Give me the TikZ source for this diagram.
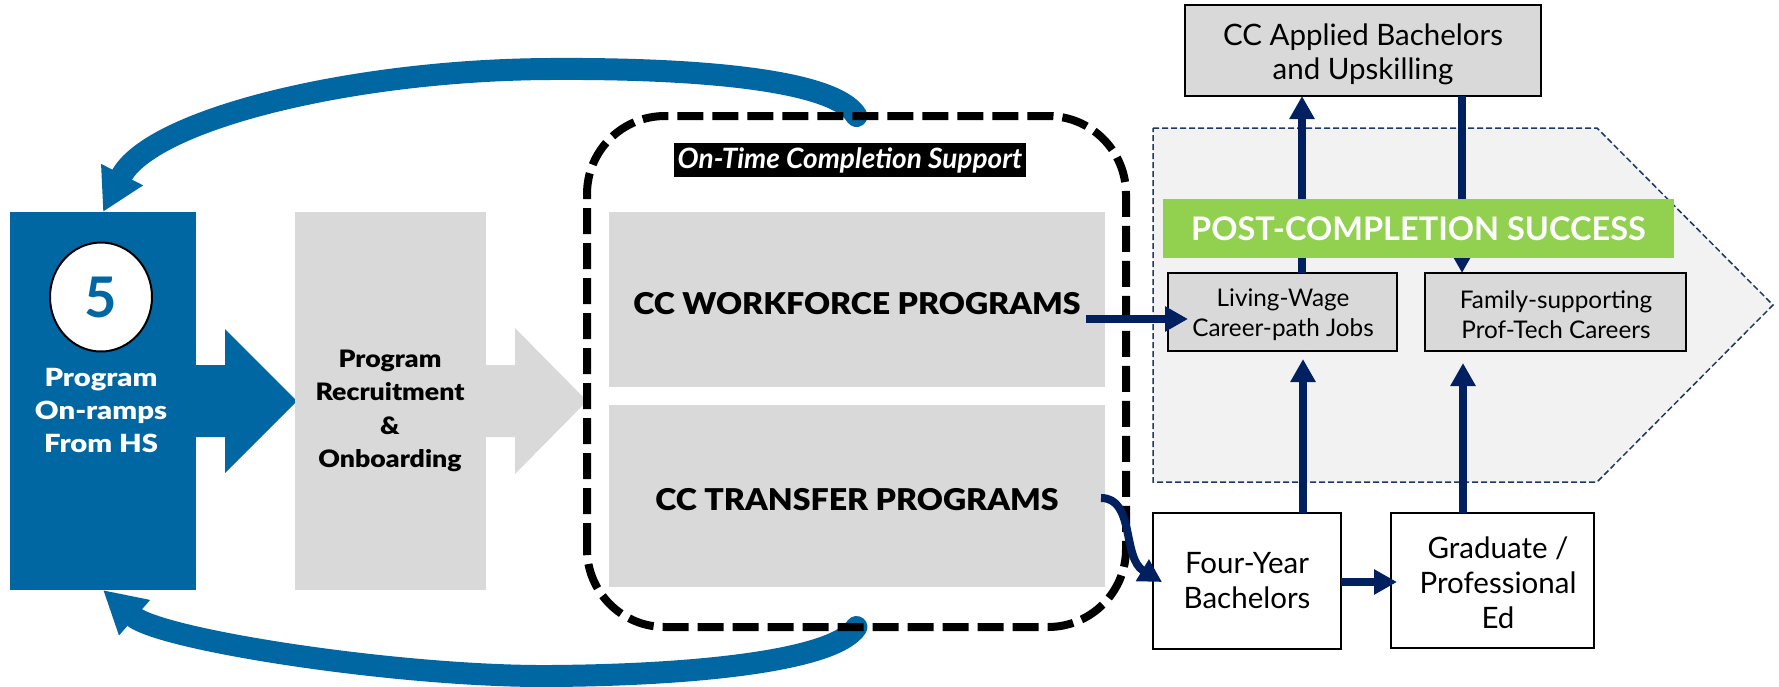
\documentclass[tikz,border=0pt]{standalone}
\usepackage{fontspec}
\setmainfont{Lato}
\IfFontExistsTF{Lato Black}{%
  \newfontfamily\heavyA[FakeStretch=1.17, BoldFont={Lato Black}]{Lato Black}%
  \newfontfamily\heavyB[FakeStretch=1.11, BoldFont={Lato Black}]{Lato Black}%
  \newfontfamily\heavyC[FakeStretch=1.07, BoldFont={Lato Black}]{Lato Black}%
}{%
  \newfontfamily\heavyA[FakeStretch=1.26]{Lato}%
  \newfontfamily\heavyB[FakeStretch=1.2]{Lato}%
  \newfontfamily\heavyC[FakeStretch=1.15]{Lato}%
}
\usetikzlibrary{shapes.geometric,arrows.meta,calc}
\definecolor{bluec}{HTML}{0067A3}
\definecolor{grayc}{HTML}{D9D9D9}
\definecolor{navyc}{HTML}{002060}
\definecolor{greenc}{HTML}{92D050}
\definecolor{pentc}{HTML}{F2F2F2}
\definecolor{pentline}{HTML}{1F3864}
\begin{document}
\begin{tikzpicture}[x=1pt,y=-1pt,
  blk/.style={inner sep=0pt, outer sep=0pt},
  graybox/.style={blk, fill=grayc},
  outbox/.style={blk, draw=black, line width=2pt},
  navyarrow/.style={draw=navyc, line width=8pt, -{Triangle[length=23pt,width=24pt]}},
  bigarc/.style={draw=bluec, line width=22pt, line cap=round, -{Triangle[length=42pt,width=44pt]}},
  bigcap/.style={font=\fontsize{30}{34}\heavyC\bfseries, text height=29pt, text depth=0pt},
  regtxt/.style={font=\fontsize{29.5}{35}\selectfont, align=center},
  smalltxt/.style={font=\fontsize{24.3}{30}\selectfont, align=center}
]
\useasboundingbox (0,0) rectangle (1779,686);
\fill[white] (0,0) rectangle (1779,686);

% left blue box
\node[blk, fill=bluec, minimum width=186pt, minimum height=378pt] (hs) at (103,401) {};
\node[blk, ellipse, draw=black, line width=2pt, fill=white, minimum width=102pt, minimum height=109pt,
      font=\fontsize{56}{60}\selectfont\bfseries, text=bluec] (five) at (101,297) {5};
\node[align=center, text=white, font=\fontsize{25}{33}\heavyA\bfseries] (hstxt) at (101,410) {Program\\On-ramps\\From HS};
\fill[bluec] (196,365) -- (225,365) -- (225,329) -- (297,401) -- (225,473) -- (225,437) -- (196,437) -- cycle;

% recruitment box
\node[graybox, minimum width=191pt, minimum height=378pt] (rec) at (390.5,401) {};
\node[align=center, font=\fontsize{24}{33.3}\heavyB\bfseries] (rectxt) at (390,411) {Program\\Recruitment\\\&\\Onboarding};
\fill[grayc] (486,365) -- (515,365) -- (515,328) -- (587,401) -- (515,474) -- (515,437) -- (486,437) -- cycle;

% on-time support frame (drawn later)
\node[blk, minimum width=539pt, minimum height=511pt] (ots) at (856.5,371.5) {};

% big blue loop arrows
\draw[bigarc] (ots.north) .. controls (835,80) and (700,68) .. (550,69)
      .. controls (350,70) and (150,120) .. (hs.north);
\draw[bigarc] (ots.south) .. controls (835,660) and (700,675) .. (550,676)
      .. controls (400,677) and (160,640) .. (hs.south);

\draw[black, line width=8pt, dash pattern=on 26pt off 9pt, rounded corners=78pt]
  (ots.south west) rectangle (ots.north east);

\node[blk, fill=black, text=white, minimum width=352pt, minimum height=34pt,
      font=\fontsize{28}{30}\selectfont\bfseries\itshape] (otlabel) at (850,160) {On-Time Completion Support};

\node[graybox, bigcap, minimum width=496pt, minimum height=175pt] (wf) at (857,299.5) {CC WORKFORCE PROGRAMS};
\node[graybox, bigcap, minimum width=496pt, minimum height=182pt] (tr) at (857,496) {CC TRANSFER PROGRAMS};

% post-completion pentagon
\fill[pentc] (1153,128) -- (1597,128) -- (1773,305) -- (1597,482) -- (1153,482) -- cycle;
\draw[pentline, line width=1.5pt, dash pattern=on 6pt off 3pt] (1153,128) -- (1597,128) -- (1773,305) -- (1597,482) -- (1153,482) -- cycle;

\node[outbox, fill=grayc, minimum width=356pt, minimum height=91pt] (cca) at (1363,50.5) {};
\node[align=center, font=\fontsize{29.5}{34}\selectfont] (ccatxt) at (1363,54) {CC Applied Bachelors\\and Upskilling};
\node[outbox, fill=grayc, minimum width=229pt, minimum height=78pt] (lw) at (1282.5,312) {};
\node[smalltxt] (lwtxt) at (1283,314.5) {Living-Wage\\Career-path Jobs};
\node[outbox, fill=grayc, minimum width=261pt, minimum height=78pt] (fam) at (1555.5,312) {};
\node[smalltxt] (famtxt) at (1556,314.5) {Family-supporting\\Prof-Tech Careers};

\draw[navyarrow] ([xshift=19.5pt]lw.north) -- ([xshift=19.5pt]lw.north |- cca.south);
\draw[navyarrow] ([xshift=-93.5pt]fam.north |- cca.south) -- ([xshift=-93.5pt]fam.north);

\node[blk, fill=greenc, text=white, minimum width=511pt, minimum height=59pt,
      font=\fontsize{32.5}{38}\selectfont\bfseries] (pcs) at (1418.5,228.5) {POST-COMPLETION SUCCESS};

\node[outbox, fill=white, regtxt, minimum width=188pt, minimum height=136pt] (fy) at (1247,581) {Four-Year\\Bachelors};
\node[outbox, fill=white, minimum width=203pt, minimum height=135pt] (grad) at (1492.5,580.5) {};
\node[regtxt] (gradtxt) at (1498,583) {Graduate /\\Professional\\Ed};

% navy connectors
\draw[navyarrow, shorten >=-20pt] ($(wf.east)+(-19,19.5)$) coordinate (wfa) -- (wfa -| lw.west);
\draw[navyarrow] ($(tr.east)+(-4,2)$) .. controls (1135,498) and (1122,558) .. ($(fy.west)+(9,1)$);
\draw[navyarrow, shorten >=-6pt] ($(fy.east)+(0,1)$) -- ($(grad.west)+(0,1.5)$);
\draw[navyarrow, shorten >=8pt] ([xshift=56pt]fy.north) -- ([xshift=56pt]fy.north |- lw.south);
\draw[navyarrow, shorten >=12pt] ([xshift=-29.5pt]grad.north) -- ([xshift=-29.5pt]grad.north |- fam.south);
\end{tikzpicture}
\end{document}
